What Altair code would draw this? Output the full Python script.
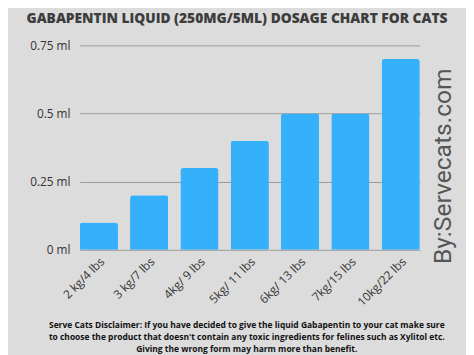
import altair as alt
import pandas as pd

categories = ["2 kg/4 lbs", "3 kg/7 lbs", "4kg/ 9 lbs", "5kg/ 11 lbs", "6kg/ 13 lbs", "7kg/15 lbs", "10kg/22 lbs"]
doses_ml = [0.1, 0.2, 0.3, 0.4, 0.5, 0.5, 0.7]
y_ticks = [0, 0.25, 0.5, 0.75]
title_text = "GABAPENTIN LIQUID (250MG/5ML) DOSAGE  CHART FOR CATS"
disclaimer = ("Serve Cats Disclaimer: If you have decided to give the liquid Gabapentin to your cat make sure\n"
              "to choose the product that doesn't contain any toxic ingredients for felines such as Xylitol etc.\n"
              "Giving the wrong form may harm more than benefit.")
watermark = "By:Servecats.com"

df = pd.DataFrame({"weight": categories, "dose": doses_ml})

bars = alt.Chart(df).mark_bar(
    color="#35b0fb", cornerRadiusTopLeft=3, cornerRadiusTopRight=3
).encode(
    x=alt.X("weight:N", sort=categories, title=None,
            scale=alt.Scale(paddingInner=0.24, paddingOuter=0),
            axis=alt.Axis(labelAngle=-45, labelFontSize=12, labelColor="#333",
                          labelFont="Open Sans", ticks=False, domain=False,
                          labelPadding=6)),
    y=alt.Y("dose:Q", title=None,
            scale=alt.Scale(domain=[0, 0.75]),
            axis=alt.Axis(values=y_ticks, labelExpr="datum.value + ' ml'",
                          labelFontSize=12, labelColor="#333", labelFont="Open Sans",
                          ticks=False, domain=False, labelPadding=10,
                          grid=True, gridColor="#9a9a9a", gridWidth=1)),
)

ttl = alt.Chart(pd.DataFrame({"t": [title_text]})).mark_text(
    fontSize=14, fontWeight=800, font="Open Sans", color="#3d3d3d",
    align="center", baseline="middle"
).encode(text="t:N", x=alt.value(160), y=alt.value(-27))

disc = alt.Chart(pd.DataFrame({"t": [disclaimer]})).mark_text(
    lineBreak="\n", lineHeight=12, fontSize=8.6, fontWeight="bold",
    font="Open Sans", color="#111", align="center", baseline="middle"
).encode(text="t:N", x=alt.value(170), y=alt.value(285))

wm = alt.Chart(pd.DataFrame({"t": [watermark]})).mark_text(
    angle=270, fontSize=25, font="Roboto", color="#555",
    align="center", baseline="middle"
).encode(text="t:N", x=alt.value(370), y=alt.value(123))

chart = alt.layer(bars, ttl, disc, wm).properties(
    width=346, height=208,
    background="#dcdcdc",
    padding={"left": 73, "top": 35, "right": 47, "bottom": 104},
    autosize=alt.AutoSizeParams(type="none"),
).configure_view(stroke=None)

chart.save("out.html", embed_options={"renderer": "svg", "actions": False})
